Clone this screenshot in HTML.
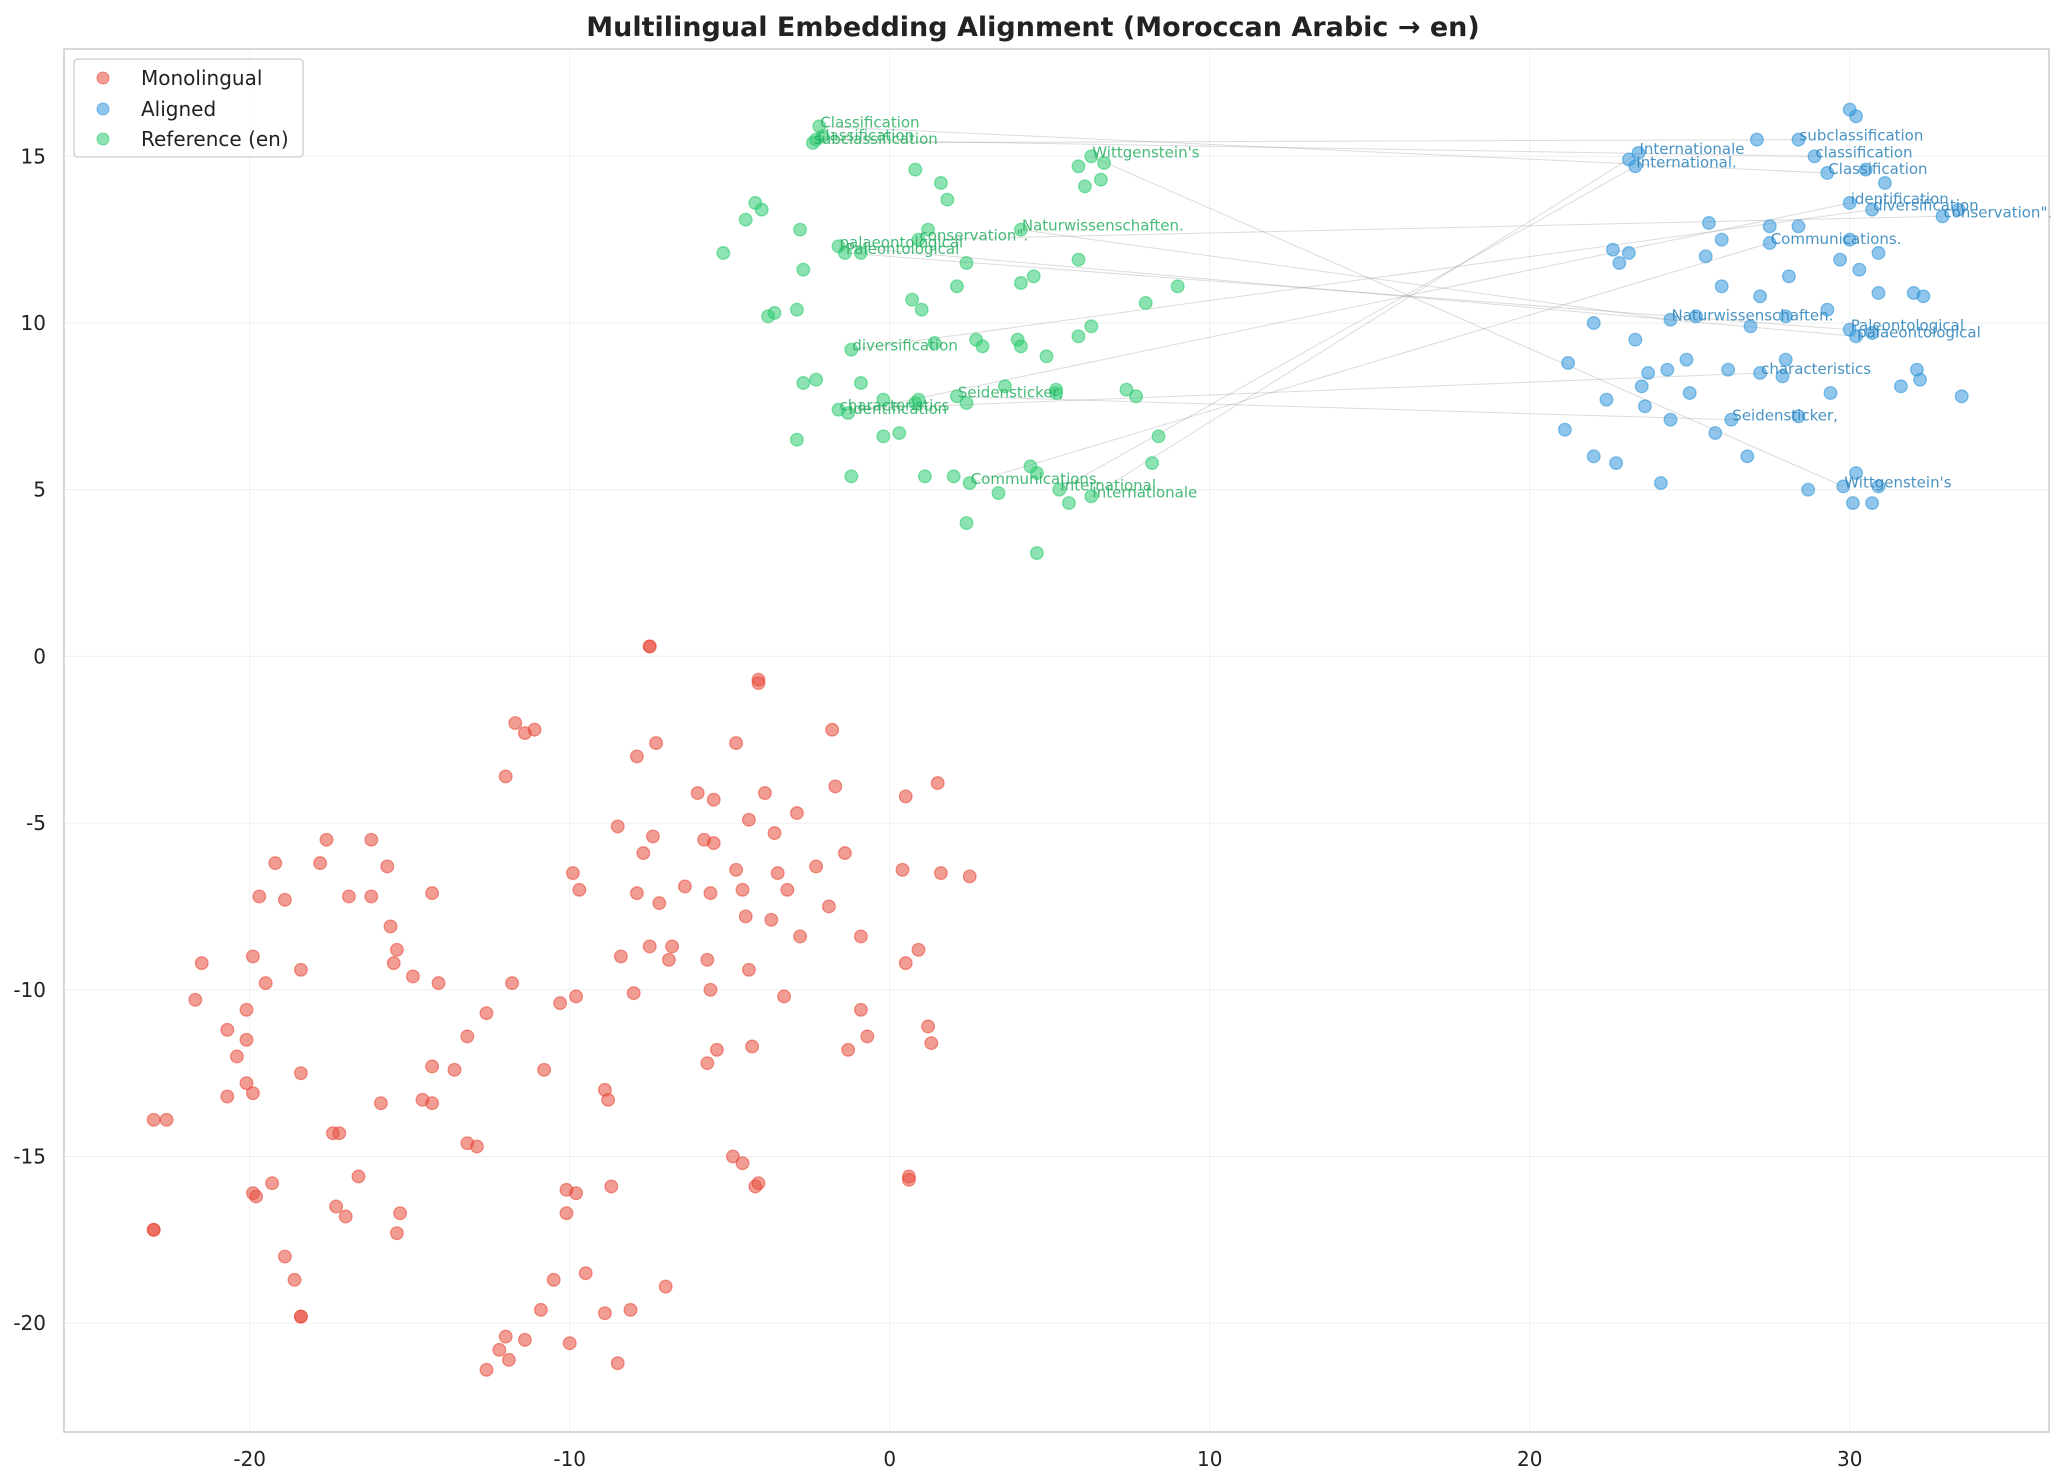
<!DOCTYPE html>
<html><head><meta charset="utf-8"><style>
body{margin:0;background:#fff;}
svg{display:block;font-family:"DejaVu Sans","Liberation Sans",sans-serif;}
</style></head><body>
<svg id="chart" width="2066" height="1483" viewBox="0 0 2066 1483" xmlns="http://www.w3.org/2000/svg">
<rect width="2066" height="1483" fill="#fff"/>
<text x="1033" y="36" text-anchor="middle" font-size="27" font-weight="bold" fill="#222">Multilingual Embedding Alignment (Moroccan Arabic → en)</text>
<g id="grid"></g><g id="links"></g><g id="marks"></g><g id="labels"></g><g id="axes"></g>
<g>
<rect x="74" y="59" width="229" height="98" rx="4" fill="#fff" fill-opacity="0.85" stroke="#ccc" stroke-width="1.3"/>
<g><circle cx="103" cy="78" r="6" fill="#e74c3c" fill-opacity="0.55" stroke="#e74c3c" stroke-opacity="0.6"/><text x="141" y="85" font-size="20" fill="#222">Monolingual</text></g>
<g><circle cx="103" cy="109" r="6" fill="#3498db" fill-opacity="0.55" stroke="#3498db" stroke-opacity="0.6"/><text x="141" y="116" font-size="20" fill="#222">Aligned</text></g>
<g><circle cx="103" cy="139" r="6" fill="#2ecc71" fill-opacity="0.55" stroke="#2ecc71" stroke-opacity="0.6"/><text x="141" y="146" font-size="20" fill="#222">Reference (en)</text></g>
</g>
</svg>
<script>
const xTicks=[-20,-10,0,10,20,30];
const yTicks=[15,10,5,0,-5,-10,-15,-20];
const monoX=[-7.5,-7.5,-4.1,-4.1,-11.7,-11.4,-11.1,-1.8,-4.8,-7.3,-7.9,-12.0,-1.7,1.5,-3.9,-6.0,-5.5,0.5,-2.9,-4.4,-8.5,-17.6,-16.2,-7.4,-3.6,-5.8,-5.5,-1.4,-7.7,-17.8,-19.2,-15.7,-2.3,-9.9,-4.8,-3.5,0.4,1.6,2.5,-6.4,-9.7,-4.6,-3.2,-5.6,-7.9,-19.7,-18.9,-16.9,-16.2,-14.3,-7.2,-1.9,-4.5,-3.7,-15.6,-2.8,-0.9,-15.4,-7.5,-6.8,0.9,-8.4,-19.9,-21.5,-15.5,-6.9,-5.7,0.5,-18.4,-4.4,-14.9,-14.1,-19.5,-11.8,-5.6,-3.3,-8.0,-9.8,-21.7,-10.3,-20.1,-0.9,-12.6,-20.7,1.2,-20.1,-13.2,-0.7,1.3,-4.3,-5.4,-1.3,-20.4,-5.7,-14.3,-13.6,-10.8,-18.4,-20.1,-8.9,-20.7,-19.9,-8.8,-14.6,-15.9,-14.3,-23.0,-22.6,-17.4,-17.2,-13.2,-12.9,-4.9,-4.6,-16.6,0.6,0.6,-4.2,-4.1,-19.3,-8.7,-10.1,-9.8,-19.9,-19.8,-23.0,-23.0,-17.3,-15.3,-17.0,-10.1,-15.4,-7.0,-9.5,-18.9,-10.5,-18.6,-10.9,-8.1,-18.4,-18.4,-8.9,-12.0,-11.4,-10.0,-12.2,-11.9,-8.5,-12.6];
const monoY=[0.3,0.3,-0.7,-0.8,-2.0,-2.3,-2.2,-2.2,-2.6,-2.6,-3.0,-3.6,-3.9,-3.8,-4.1,-4.1,-4.3,-4.2,-4.7,-4.9,-5.1,-5.5,-5.5,-5.4,-5.3,-5.5,-5.6,-5.9,-5.9,-6.2,-6.2,-6.3,-6.3,-6.5,-6.4,-6.5,-6.4,-6.5,-6.6,-6.9,-7.0,-7.0,-7.0,-7.1,-7.1,-7.2,-7.3,-7.2,-7.2,-7.1,-7.4,-7.5,-7.8,-7.9,-8.1,-8.4,-8.4,-8.8,-8.7,-8.7,-8.8,-9.0,-9.0,-9.2,-9.2,-9.1,-9.1,-9.2,-9.4,-9.4,-9.6,-9.8,-9.8,-9.8,-10.0,-10.2,-10.1,-10.2,-10.3,-10.4,-10.6,-10.6,-10.7,-11.2,-11.1,-11.5,-11.4,-11.4,-11.6,-11.7,-11.8,-11.8,-12.0,-12.2,-12.3,-12.4,-12.4,-12.5,-12.8,-13.0,-13.2,-13.1,-13.3,-13.3,-13.4,-13.4,-13.9,-13.9,-14.3,-14.3,-14.6,-14.7,-15.0,-15.2,-15.6,-15.6,-15.7,-15.9,-15.8,-15.8,-15.9,-16.0,-16.1,-16.1,-16.2,-17.2,-17.2,-16.5,-16.7,-16.8,-16.7,-17.3,-18.9,-18.5,-18.0,-18.7,-18.7,-19.6,-19.6,-19.8,-19.8,-19.7,-20.4,-20.5,-20.6,-20.8,-21.1,-21.2,-21.4];
const refX=[-2.2,-2.1,-2.4,-2.3,6.3,6.7,5.9,0.8,1.6,6.6,6.1,1.8,-4.2,-4.0,-4.5,1.2,-2.8,4.1,0.9,-1.6,-5.2,-1.4,-0.9,5.9,2.4,-2.7,4.5,4.1,2.1,9.0,0.7,8.0,-2.9,1.0,-3.6,-3.8,6.3,5.9,2.7,1.4,4.0,4.1,2.9,-1.2,4.9,-2.7,-2.3,-0.9,3.6,7.4,5.2,5.2,7.7,-0.2,2.1,0.9,0.8,2.4,-1.6,-1.3,8.4,-0.2,0.3,-2.9,8.2,4.4,4.6,2.0,1.1,-1.2,2.5,3.4,5.3,6.3,5.6,2.4,4.6];
const refY=[15.9,15.6,15.4,15.5,15.0,14.8,14.7,14.6,14.2,14.3,14.1,13.7,13.6,13.4,13.1,12.8,12.8,12.8,12.5,12.3,12.1,12.1,12.1,11.9,11.8,11.6,11.4,11.2,11.1,11.1,10.7,10.6,10.4,10.4,10.3,10.2,9.9,9.6,9.5,9.4,9.5,9.3,9.3,9.2,9.0,8.2,8.3,8.2,8.1,8.0,8.0,7.9,7.8,7.7,7.8,7.7,7.6,7.6,7.4,7.3,6.6,6.6,6.7,6.5,5.8,5.7,5.5,5.4,5.4,5.4,5.2,4.9,5.0,4.8,4.6,4.0,3.1];
const alignX=[30.0,30.2,27.1,28.4,23.4,23.1,23.3,28.9,30.5,29.3,31.1,30.0,30.7,33.4,32.9,25.6,27.5,28.4,30.0,26.0,27.5,22.6,23.1,30.9,25.5,29.7,22.8,30.3,28.1,26.0,30.9,32.0,32.3,27.2,29.3,28.0,24.4,25.2,22.0,26.9,30.0,30.7,30.2,23.3,21.2,28.0,24.9,26.2,32.1,24.3,23.7,27.2,27.9,32.2,23.5,31.6,29.4,25.0,33.5,22.4,23.6,28.4,26.3,24.4,21.1,25.8,22.0,26.8,22.7,30.2,24.1,30.9,29.8,28.7,30.1,30.7];
const alignY=[16.4,16.2,15.5,15.5,15.1,14.9,14.7,15.0,14.6,14.5,14.2,13.6,13.4,13.4,13.2,13.0,12.9,12.9,12.5,12.5,12.4,12.2,12.1,12.1,12.0,11.9,11.8,11.6,11.4,11.1,10.9,10.9,10.8,10.8,10.4,10.2,10.1,10.2,10.0,9.9,9.8,9.7,9.6,9.5,8.8,8.9,8.9,8.6,8.6,8.6,8.5,8.5,8.4,8.3,8.1,8.1,7.9,7.9,7.8,7.7,7.5,7.2,7.1,7.1,6.8,6.7,6.0,6.0,5.8,5.5,5.2,5.1,5.1,5.0,4.6,4.6];
const words=["Classification","classification","subclassification","Wittgenstein's","Naturwissenschaften.","conservation\".","palaeontological","Paleontological","diversification","Seidensticker,","characteristics","identification","Communications.","International.","Internationale"];
const refWordX=[-2.2,-2.3,-2.4,6.3,4.1,0.9,-1.6,-1.4,-1.2,2.1,-1.6,-1.3,2.5,5.3,6.3];
const refWordY=[15.9,15.5,15.4,15.0,12.8,12.5,12.3,12.1,9.2,7.8,7.4,7.3,5.2,5.0,4.8];
const alWordX=[29.3,28.9,28.4,29.8,24.4,32.9,30.2,30.0,30.7,26.3,27.2,30.0,27.5,23.3,23.4];
const alWordY=[14.5,15.0,15.5,5.1,10.1,13.2,9.6,9.8,13.4,7.1,8.5,13.6,12.4,14.7,15.1];

const NS="http://www.w3.org/2000/svg";
const L=64,R=2049,T=49,B=1432;
const X=v=>889.7+v*32.0;
const Y=v=>656.4-v*33.34;
function mk(tag,attrs,parent){const e=document.createElementNS(NS,tag);for(const k in attrs)e.setAttribute(k,attrs[k]);parent.appendChild(e);return e;}
const grid=document.getElementById('grid'),axes=document.getElementById('axes'),marks=document.getElementById('marks'),links=document.getElementById('links'),labels=document.getElementById('labels');
xTicks.forEach(t=>{
  const g=mk('line',{x1:X(t),x2:X(t),y1:T,y2:B,stroke:'#efefef','stroke-width':1},grid);
  
  
  const tx=mk('text',{x:X(t),y:B+34,'text-anchor':'middle','font-size':20,fill:'#222'},axes);
  tx.textContent=t;
  
  
});
yTicks.forEach(t=>{
  const g=mk('line',{x1:L,x2:R,y1:Y(t),y2:Y(t),stroke:'#efefef','stroke-width':1},grid);
  
  
  const tx=mk('text',{x:L-18,y:Y(t)+7,'text-anchor':'end','font-size':20,fill:'#222'},axes);
  tx.textContent=t;
  
  
});
const frame=mk('rect',{x:L,y:T,width:R-L,height:B-T,fill:'none',stroke:'#ccc','stroke-width':1.5},axes);


words.forEach((w,i)=>{
  const ln=mk('line',{x1:X(refWordX[i]),y1:Y(refWordY[i]),x2:X(alWordX[i]),y2:Y(alWordY[i]),stroke:'#999','stroke-opacity':0.35,'stroke-width':1},links);
  
  
});
function pts(xs,ys,col,name){xs.forEach((v,i)=>{
  const c=mk('circle',{cx:X(v),cy:Y(ys[i]),r:6.3,fill:col,'fill-opacity':0.55,stroke:col,'stroke-opacity':0.6,'stroke-width':1.3},marks);
  
  
});}
pts(monoX,monoY,'#e74c3c','monolingual-point');
pts(alignX,alignY,'#3498db','aligned-point');
pts(refX,refY,'#2ecc71','reference-point');
words.forEach((w,i)=>{
  const a=mk('text',{x:X(refWordX[i])+1,y:Y(refWordY[i])+1,'font-size':15,fill:'#27ae60','fill-opacity':0.85},labels);
  a.textContent=w;
  
  
  const b=mk('text',{x:X(alWordX[i])+1,y:Y(alWordY[i])+1,'font-size':15,fill:'#2980b9','fill-opacity':0.85},labels);
  b.textContent=w;
  
  
});
</script>
</body></html>
